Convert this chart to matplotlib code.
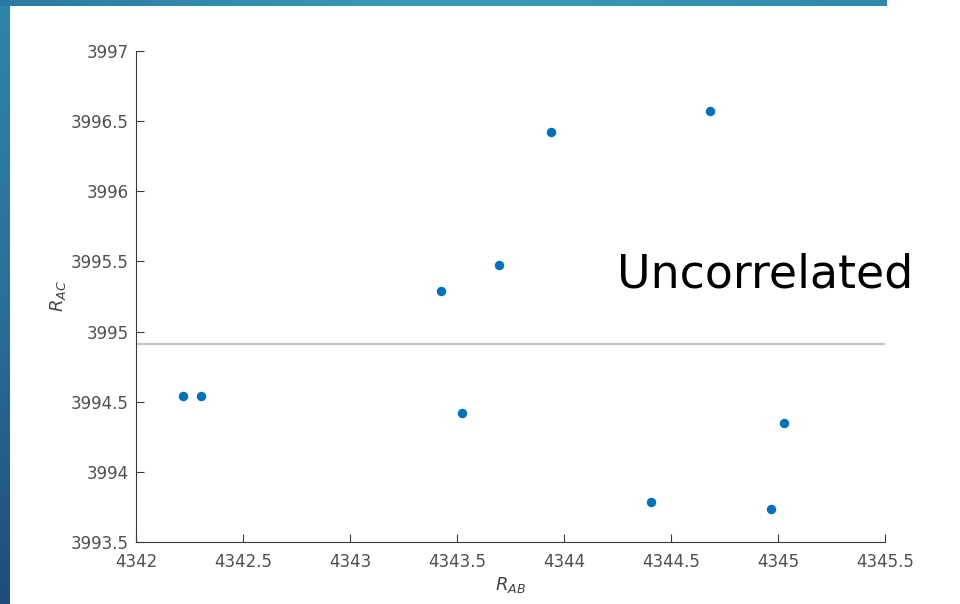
import numpy as np
import matplotlib
matplotlib.use("Agg")
import matplotlib.pyplot as plt
from matplotlib.colors import LinearSegmentedColormap

# Measured resistances (ohms)
r_ab = [4342.218, 4342.305, 4343.427, 4343.695, 4343.938,
        4344.682, 4343.522, 4344.408, 4344.966, 4345.027]
r_ac = [3994.543, 3994.543, 3995.287, 3995.472, 3996.422,
        3996.570, 3994.422, 3993.785, 3993.737, 3994.350]

x_ticks = [4342, 4342.5, 4343, 4343.5, 4344, 4344.5, 4345, 4345.5]
y_ticks = [3993.5, 3994, 3994.5, 3995, 3995.5, 3996, 3996.5, 3997]
x_tick_labels = ["4342", "4342.5", "4343", "4343.5", "4344", "4344.5", "4345", "4345.5"]
y_tick_labels = ["3993.5", "3994", "3994.5", "3995", "3995.5", "3996", "3996.5", "3997"]

W, H = 960, 604
fig = plt.figure(figsize=(W / 100, H / 100), dpi=100, facecolor="white")

# Slide decoration: blue bands along the left and top edges
left_cmap = LinearSegmentedColormap.from_list("left", ["#2d86ab", "#2a6f9c", "#1e4c80"])
top_cmap = LinearSegmentedColormap.from_list("top", ["#2b7aa3", "#3a9db7", "#2f88ad"])

ax_left = fig.add_axes([0, 0, 10 / W, 1])
ax_left.imshow(np.linspace(0, 1, 256)[:, None], aspect="auto", cmap=left_cmap)
ax_left.axis("off")

ax_top = fig.add_axes([0, 1 - 6.5 / H, 887 / W, 6.5 / H])
ax_top.imshow(np.linspace(0, 1, 256)[None, :], aspect="auto", cmap=top_cmap)
ax_top.axis("off")

# Scatter plot
ax = fig.add_axes([136 / W, (H - 542) / H, (885 - 136) / W, (542 - 51) / H])
ax.set_facecolor("white")

mean_ac = float(np.mean(r_ac))
ax.axhline(mean_ac, color="#c4c4c4", lw=1.6, zorder=1)
ax.plot(r_ab, r_ac, "o", color="#0072BD", ms=6.8, mec="none", zorder=3)

ax.set_xlim(4342, 4345.5)
ax.set_ylim(3993.5, 3997)
ax.set_xticks(x_ticks)
ax.set_xticklabels(x_tick_labels)
ax.set_yticks(y_ticks)
ax.set_yticklabels(y_tick_labels)

for side in ("top", "right"):
    ax.spines[side].set_visible(False)
for side in ("left", "bottom"):
    ax.spines[side].set_color("#3a3a3a")
    ax.spines[side].set_linewidth(0.8)

ax.tick_params(axis="both", direction="in", length=6, width=0.8,
               color="#3a3a3a", labelcolor="#505050", labelsize=12)
ax.tick_params(axis="x", pad=8)
ax.tick_params(axis="y", pad=5)

ax.set_xlabel(r"$R_{AB}$", fontsize=13, color="#444444", labelpad=3)
ax.set_ylabel(r"$R_{AC}$", fontsize=13, color="#444444", labelpad=2)

fig.text(617 / W, (H - 287) / H, "Uncorrelated", fontsize=33,
         family="DejaVu Sans", color="black", ha="left", va="baseline")

fig.savefig("out.png", dpi=100, facecolor="white")
